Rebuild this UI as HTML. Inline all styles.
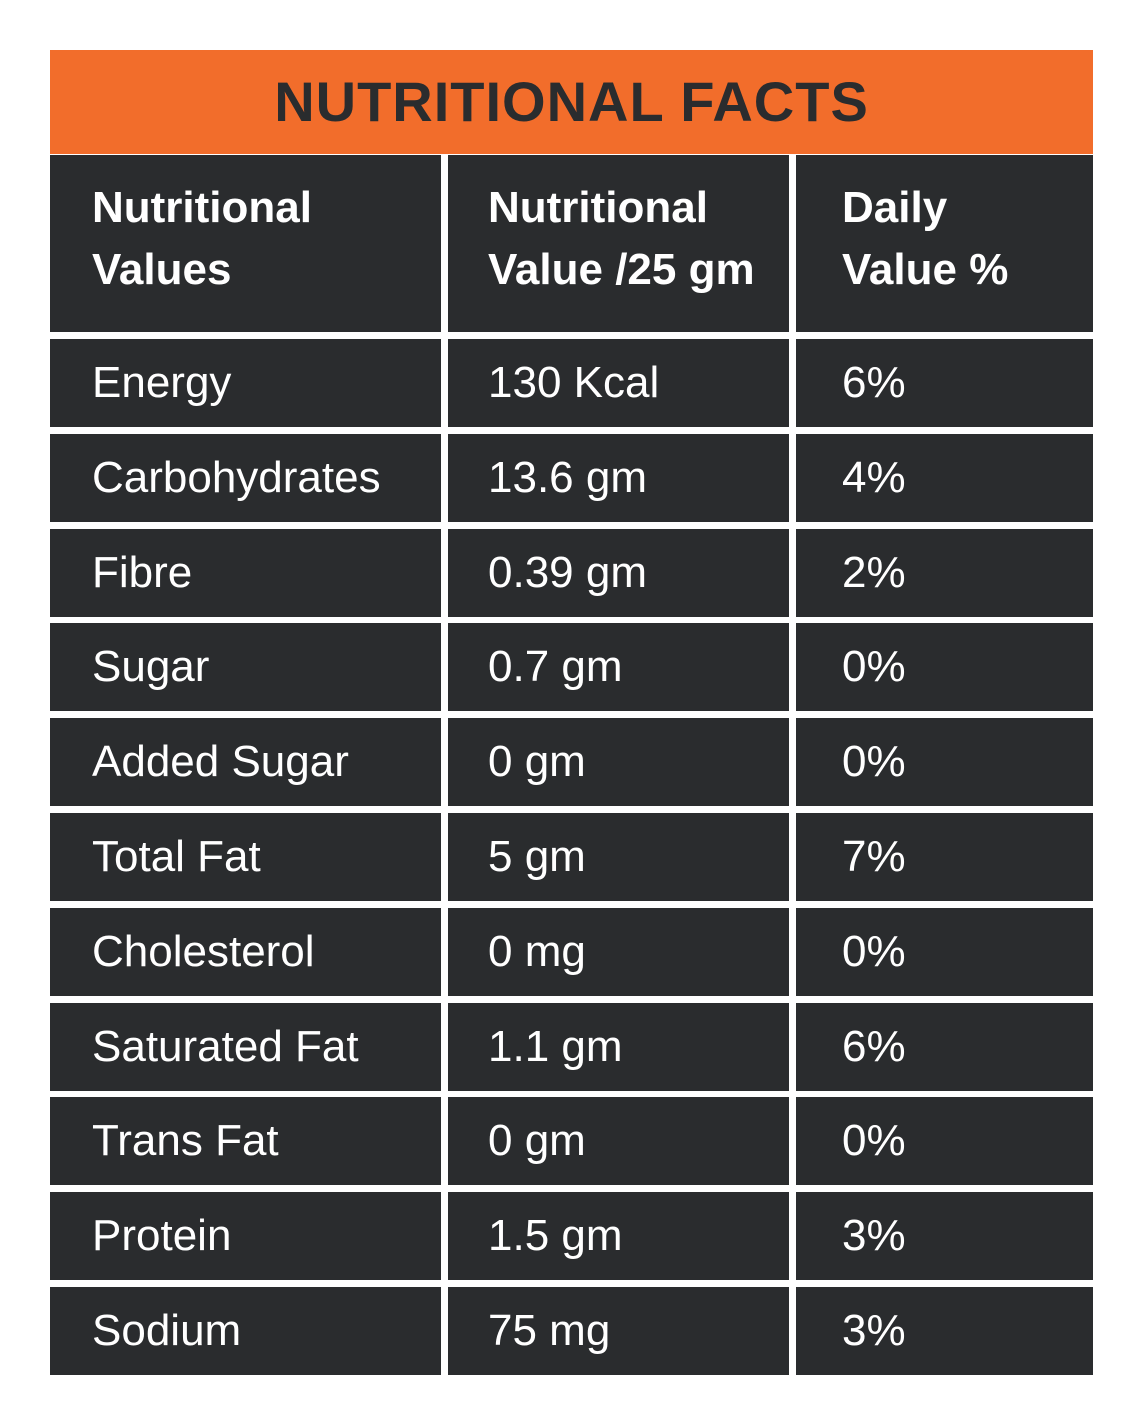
<!DOCTYPE html>
<html><head><meta charset="utf-8"><style>
html,body{margin:0;padding:0;background:#fff;width:1148px;height:1420px;overflow:hidden}
body{position:relative;font-family:"Liberation Sans",sans-serif}
.title{position:absolute;left:50px;top:50px;width:1043px;height:104px;background:#f26d2b;color:#2a2c2e;font-weight:bold;font-size:56px;line-height:104px;text-align:center;letter-spacing:1px}
.cell{position:absolute;background:#2a2c2e;color:#fff;box-sizing:border-box;font-size:44px;display:flex;align-items:center}
.h{font-weight:bold;font-size:44px;line-height:62px;align-items:flex-start;padding-top:22px;white-space:nowrap;overflow:hidden}
</style></head><body>
<div class="title">NUTRITIONAL FACTS</div>
<div class="cell h" style="left:50px;top:155px;width:391px;height:177px;padding-left:42px">Nutritional<br>Values</div>
<div class="cell h" style="left:448px;top:155px;width:341px;height:177px;padding-left:40px">Nutritional<br>Value /25 gm</div>
<div class="cell h" style="left:796px;top:155px;width:297px;height:177px;padding-left:46px">Daily<br>Value %</div>
<div id="rows"></div>
<script>
const names=["Energy","Carbohydrates","Fibre","Sugar","Added Sugar","Total Fat","Cholesterol","Saturated Fat","Trans Fat","Protein","Sodium"];
const amounts=["130 Kcal","13.6 gm","0.39 gm","0.7 gm","0 gm","5 gm","0 mg","1.1 gm","0 gm","1.5 gm","75 mg"];
const daily=["6%","4%","2%","0%","0%","7%","0%","6%","0%","3%","3%"];
const cols=[{l:50,w:391,p:42},{l:448,w:341,p:40},{l:796,w:297,p:46}];
const root=document.getElementById('rows');
names.forEach((n,i)=>{
  const top=339+i*94.8;
  [n,amounts[i],daily[i]].forEach((t,j)=>{
    const d=document.createElement('div');
    d.className='cell';
    
    
    d.style.left=cols[j].l+'px';d.style.width=cols[j].w+'px';
    d.style.top=top+'px';d.style.height='88px';
    d.style.paddingLeft=cols[j].p+'px';
    d.textContent=t;
    root.appendChild(d);
  });
});
</script>
</body></html>
